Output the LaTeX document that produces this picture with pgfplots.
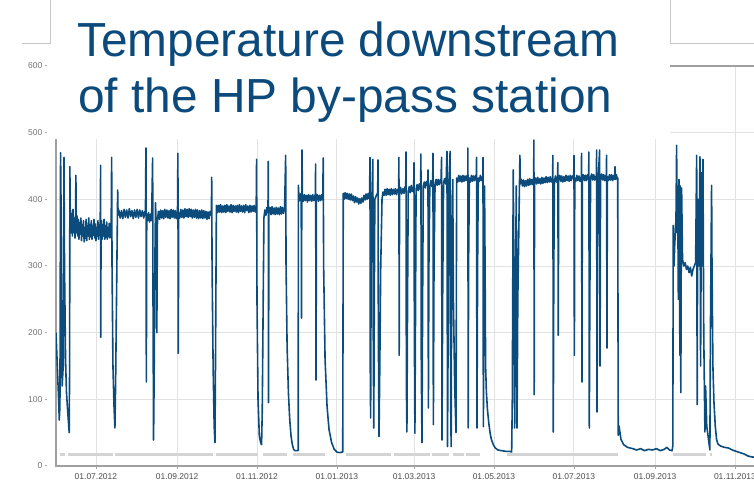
\documentclass[border=0pt]{standalone}
\usepackage{pgfplots}
\pgfplotsset{compat=1.18}
\usepackage{fontspec}
\setmainfont{Liberation Sans}
\definecolor{traceblue}{RGB}{12,76,125}
\definecolor{titleblue}{RGB}{11,74,123}
\definecolor{statusgray}{RGB}{212,212,212}
\definecolor{axisgray}{RGB}{160,160,160}
\definecolor{gridgray}{RGB}{226,226,226}

\begin{document}
\begin{tikzpicture}
\path[use as bounding box] (0bp,0bp) rectangle (754bp,488bp);
\clip (0bp,0bp) rectangle (754bp,488bp);
\begin{axis}[
    at={(56bp,22bp)}, anchor=south west,
    scale only axis,
    width=707.7bp, height=400bp,
    xmin=-30.5, xmax=510,
    ymin=0, ymax=600,
    axis line style={draw=axisgray},
    x axis line style={line width=2bp},
    y axis line style={line width=1.2bp},
    grid=major,
    grid style={gridgray, line width=0.8bp},
    tick pos=left,
    tick align=outside,
    major tick length=3bp,
    xtick style={draw=axisgray, line width=0.6bp},
    ytick style={draw=none},
    xtick={0,62,123,184,243,304,365,427,488},
    xticklabels={01.07.2012,01.09.2012,01.11.2012,01.01.2013,01.03.2013,01.05.2013,01.07.2013,01.09.2013,01.11.2013},
    xticklabel style={font=\fontsize{8.5}{9}\selectfont, text=black!70, yshift=-1bp},
    ytick={0,100,200,300,400,500,600},
    yticklabels={0 -,100 -,200 -,300 -,400 -,500 -,600 -},
    yticklabel style={font=\fontsize{8.5}{9}\selectfont, text=black!55, xshift=-2bp},
    unbounded coords=jump,
]

% status signal near the bottom
\addplot[statusgray, line width=3bp] coordinates {
(-27.5,17)(-23.7,17)(-23.5,nan)(-21.4,17)(13,17)(13.5,nan)(14.5,17)(89.4,17)(90,nan)
(91.6,17)(123.7,17)(124,nan)(127.5,17)(145.9,17)(146,nan)(150.4,17)(174.9,17)(175,nan)
(190.9,17)(225,17)(226,nan)(228,17)(255,17)(256,nan)(257,17)(270,17)(271,nan)
(273,17)(281,17)(282,nan)(283,17)(293.3,17)(294,nan)(313.9,17)(398.7,17)(399,nan)
(440.7,17)(466,17)(467,nan)(469,17)(470.5,17)
};

% temperature downstream of the HP by-pass station
\addplot[traceblue, line width=1.6bp, line join=round] coordinates {
(-30.5,200)(-29.5,150)(-28.5,100)(-28,69)(-27.5,90)(-27,470)(-26.6,380)(-26.2,180)(-25.8,120)
(-25,150)(-24.4,463)(-24,300)(-23.2,160)(-22.5,110)(-21.5,80)(-20.4,50)(-20.1,150)(-19.9,449)
(-19.6,360)(-19.3,383)(-19,350)(-18.5,378)(-18,345)(-17.5,385)(-17,350)(-16.5,372)(-16,342)
(-15.6,365)(-15.3,436)(-15,350)(-14.5,375)(-14,345)(-13.5,370)(-13,340)(-12.5,365)(-12,348)
(-11.5,372)(-11,338)(-10.5,362)(-10,345)(-9.5,368)(-9,336)(-8.5,358)(-8,342)(-7.5,370)(-7,338)
(-6.5,360)(-6,345)(-5.5,372)(-5,340)(-4.5,362)(-4,344)(-3.5,368)(-3,340)(-2.5,360)(-2,346)
(-1.5,370)(-1,342)(-0.5,363)(0,338)(0.5,358)(1,345)(1.5,368)(2,340)(2.5,362)(3,348)(3.3,372)
(3.6,451)(3.7,193)(3.9,350)(4.3,368)(4.7,340)(5.2,362)(5.7,345)(6.2,370)(6.7,340)(7.2,360)
(7.7,343)(8.2,366)(8.7,340)(9.2,358)(9.7,344)(10.2,364)(10.7,342)(11.2,360)(11.6,348)
(12,463)(12.3,300)(13,150)(13.8,90)(14.5,57)(15,120)(16,300)(16.6,414)
(16.9,376)(17.5,384)(18.5,372)(19.5,383)(20.5,371)(21.5,385)(22.5,373)(23.5,384)(24.5,372)
(25.5,386)(26.5,374)(27.5,383)(28.5,371)(29.5,384)(30.5,373)(31.5,385)(32.5,372)(33.5,384)
(34.5,374)(35.5,383)(36.5,372)(37.4,382)(37.8,376)(38.2,477)(38.5,126)(38.8,378)(39.5,368)
(40.2,380)(41,366)(41.8,378)(42.5,368)(43.3,462)(43.6,250)(44.0,39)(44.4,120)(45,300)(45.5,395)
(46,360)(46.5,200)(47,370)(47.8,382)(48.6,370)(49.4,384)(50.2,372)(51,383)(51.8,371)(52.6,385)
(53.4,373)(54.2,384)(55,372)(55.8,383)(56.6,371)(57.4,385)(58.2,373)(59,384)(59.8,372)(60.6,383)
(61.4,371)(62.3,380)(62.6,469)(62.9,169)(63.2,380)(64,372)(64.8,385)(65.6,373)(66.4,384)(67.2,372)
(68,386)(68.8,374)(69.6,385)(70.4,373)(71.2,386)(72,374)(72.8,385)(73.6,372)(74.4,384)(75.2,373)
(76,385)(76.8,372)(77.6,384)(78.4,371)(79.2,383)(80,372)(80.8,384)(81.6,371)(82.4,383)(83.2,372)
(84,382)(84.8,370)(85.6,381)(86.4,371)(87.2,382)(88.2,376)(88.4,433)(88.7,300)(89.5,150)
(90.3,60)(90.9,35)(91.3,150)(92,391)
(92.8,380)(93.6,391)(94.4,381)(95.2,392)(96,380)(96.8,390)(97.6,381)(98.4,391)(99.2,380)(100,392)
(100.8,382)(101.6,390)(102.4,381)(103.2,392)(104,380)(104.8,391)(105.6,382)(106.4,390)(107.2,381)
(108,391)(108.8,380)(109.6,392)(110.4,382)(111.2,390)(112,381)(112.8,391)(113.6,380)(114.4,392)
(115.2,383)(116,390)(116.8,380)(117.6,391)(118.4,381)(119.2,390)(120,382)(120.8,391)(121.6,381)
(122.4,386)(122.7,460)(123,250)(123.8,100)(124.8,45)(125.8,35)(126.5,32)(127,80)
(128.3,372)(129,384)(129.8,376)(130.6,388)(131.4,380)(131.6,457)(131.8,95)(132.1,380)(132.9,388)
(133.7,377)(134.5,389)(135.3,378)(136.1,387)(136.9,377)(137.7,388)(138.5,378)(139.3,387)(140.1,377)
(140.9,389)(141.7,378)(142.5,388)(143.3,379)(144.1,387)(144.9,466)(145.2,300)(146,180)
(147,110)(148,70)(149,45)(150,32)(151,25)(152,23)(153,23)(154.5,23)
(154.6,421)(155,405)(155.6,398)(156.2,408)(156.8,395)(157,222)(157.2,400)(157.4,474)(157.7,404)
(158.4,397)(159.2,407)(160,398)(160.8,406)(161.6,396)(162.4,407)(163.2,398)(164,406)(164.8,397)
(165.6,407)(166.4,398)(167.2,406)(167.5,402)(167.8,453)(168.1,129)(168.4,401)(169.2,407)(170,397)
(170.8,406)(171.6,398)(172.4,407)(173.2,399)(173.6,462)(173.9,300)
(175,160)(176.5,90)(178,55)(180,35)(182,25)(184,21)(186,20)(188.5,21)
(188.9,409)(189.5,400)(190.3,410)(191.1,401)(191.9,409)(192.7,400)(193.5,408)(194.3,399)(195.1,408)
(195.9,398)(196.7,405)(197.5,395)(198.3,404)(199.1,396)(199.9,402)(200.7,393)(201.5,401)(202.3,394)
(203.1,402)(203.9,396)(204.7,406)(205.5,399)(206.3,408)(207.1,400)(207.9,409)(208.7,401)(209.0,405)
(209.3,463)(209.5,150)(209.8,72)(210.2,300)(210.8,405)(211.5,460)(211.8,200)(212.2,57)
(212.6,250)(213,400)(214,405)(215.2,410)(215.4,459)(215.7,200)(216.2,44)(216.8,150)(217.5,300)
(218.5,400)(219.2,411)(220,406)(220.8,415)(221.6,406)(222.4,416)(223.2,407)(224,415)(224.8,406)
(225.6,416)(226.4,407)(227.2,415)(228,408)(228.8,416)(229.6,407)(230.4,415)(231.2,410)(231.4,463)
(231.6,166)(231.9,411)(232.7,418)(233.5,408)(234.5,416)(235.3,409)(236.1,419)(236.6,415)(236.8,471)
(237.1,120)(237.5,51)(238,250)(238.5,412)(239.3,419)(240.1,410)(240.9,421)(241.7,412)(242.7,418)
(242.9,455)(243.2,200)(243.6,49)(244,200)(244.5,415)(245.3,422)(246.1,413)(246.9,423)(247.7,415)
(248.0,420)(248.2,468)(248.5,150)(249,35)(249.5,250)(250,420)(250.8,426)(251.6,417)(252.4,427)
(253.4,420)(253.6,444)(253.9,87)(254.3,300)(255,420)(255.8,428)(256.6,419)(257.2,424)(257.4,469)
(257.7,62)(258.2,300)(259,424)(259.8,430)(260.6,421)(261.4,430)(262.2,422)(263,429)(263.5,425)
(264.0,463)(264.3,39)(264.8,250)(265.5,425)(266.3,431)(267.1,423)(267.5,428)(268.1,472)
(268.5,29)(269,200)(269.6,427)(270.5,472)(270.9,100)(271.3,29)(271.7,300)(272.5,430)(273,250)
(274,120)(275,50)(275.5,432)(276.3,426)(277.1,436)(277.9,427)(278.7,435)(279.5,426)(280.3,436)
(281.1,427)(281.9,435)(282.7,428)(283.5,436)(284,432)(284.1,477)(284.3,57)(284.6,300)(285.2,432)
(286,426)(286.8,436)(287.6,427)(288.4,435)(289.2,428)(290,436)(290.5,430)(290.7,463)(291,57)
(291.5,300)(292,432)(292.8,427)(293.6,436)(294.4,428)(295.2,434)(295.5,431)(295.6,463)(295.9,59)
(296.3,250)(296.8,420)(297.2,300)(297.6,150)(298.2,111)
(299,85)(300,65)(301,50)(302,40)(303.5,32)(305,27)(307,24)(310,23)(313,22)(316,22)(317.5,21)
(318,100)(318.7,444)(319.2,300)(319.8,57)(320.3,200)(321,420)(321.3,300)(321.6,57)(322.2,250)
(323.5,426)(323.8,466)(324.1,423)(324.9,430)(325.7,420)(326.5,429)(327.3,419)(328.1,428)(328.9,420)
(329.7,430)(330.5,421)(331.3,431)(332.1,422)(332.9,430)(333.7,422)(334.3,428)(334.5,489)(334.7,107)
(335,426)(335.8,432)(336.6,423)(337.4,433)(338.2,424)(339,431)(339.8,423)(340.6,433)(341.4,424)
(342.2,432)(343,425)(343.8,434)(344.6,425)(345.4,433)(346.2,426)(347,434)(347.8,426)(348.8,432)
(349.0,466)(349.3,51)(349.7,300)(350.2,428)(351,435)(351.8,426)(352.6,433)(352.8,455)(353.1,196)
(353.4,430)(354.2,436)(355,427)(355.8,435)(356.6,426)(357.4,434)(358.2,427)(359,436)(359.8,428)
(360.6,435)(361.4,427)(362.2,436)(363,428)(363.8,435)(364.9,431)(365.1,466)(365.4,166)(365.7,432)
(366.5,427)(367.3,436)(368.1,428)(368.9,435)(369.7,427)(370.7,434)(370.9,469)(371.2,126)(371.5,432)
(372.3,437)(373.1,428)(373.9,436)(374.7,428)(375.5,437)(376.3,430)(376.5,471)(376.8,57)(377.2,250)
(377.8,433)(378.6,438)(379.4,429)(380.2,437)(381,429)(382.2,436)(382.4,474)(382.7,81)(383.1,300)
(383.6,430)(384.7,474)(385.0,150)(385.4,433)(386.2,438)(387,429)(387.8,437)(388.6,428)(389.4,436)
(389.8,432)(390.0,466)(390.3,177)(390.6,434)(391.4,428)(392.2,437)(393,429)(393.8,437)(394.6,428)
(395.4,436)(396.2,430)(396.4,449)(396.7,430)(397.5,437)(398.3,429)(398.5,432)
(398.9,46)(399.5,60)(401,40)(403,32)(406,28)(410,26)
(413,24)(416,26)(419,23)(422,25)(425,24)(428,26)(431,23)(434,25)(436,28)(438,24)(440,23)(440.6,30)
(440.9,361)(441.5,300)(442,330)(443.0,370)(443.5,481)(443.8,350)(444.3,420)(444.8,250)(445.3,430)
(446,166)(446.3,420)(446.7,110)(447,300)(447.3,417)(448,310)(449,300)(450,305)(451,295)(452,300)
(453,290)(454,298)(455,285)(456,295)(457,300)(458,305)(458.8,466)(459.2,92)(459.6,400)(460.5,300)
(461.3,464)(461.8,150)(462.5,440)(463.3,300)(463.6,460)(464.2,200)(465.1,51)(465.6,120)(466.5,60)
(467.5,45)(468.5,30)(468.9,24)(469.3,200)(470.2,421)(470.5,300)(471.2,150)(472,96)(473,60)(474,40)
(475,33)(477,30)(480,28)(483,27)(486,24)(489,22)(492,20)(495,18)(498,15)(500,14)(503,13)
};
\end{axis}

% title panel laid over the chart
\fill[white] (52bp,349bp) rectangle (670bp,488bp);
\draw[gray!45, line width=0.8bp] (22bp,445bp) -- (50bp,445bp) -- (50bp,488bp);
\draw[gray!45, line width=0.8bp] (670bp,488bp) -- (670bp,445bp) -- (754bp,445bp);
\node[anchor=base west, inner sep=0, text=titleblue, font=\fontsize{48}{56}\selectfont] at (77bp,431.3bp) {Temperature downstream};
\node[anchor=base west, inner sep=0, text=titleblue, font=\fontsize{48}{56}\selectfont] at (78bp,375.3bp) {of the HP by-pass station};
\end{tikzpicture}
\end{document}
